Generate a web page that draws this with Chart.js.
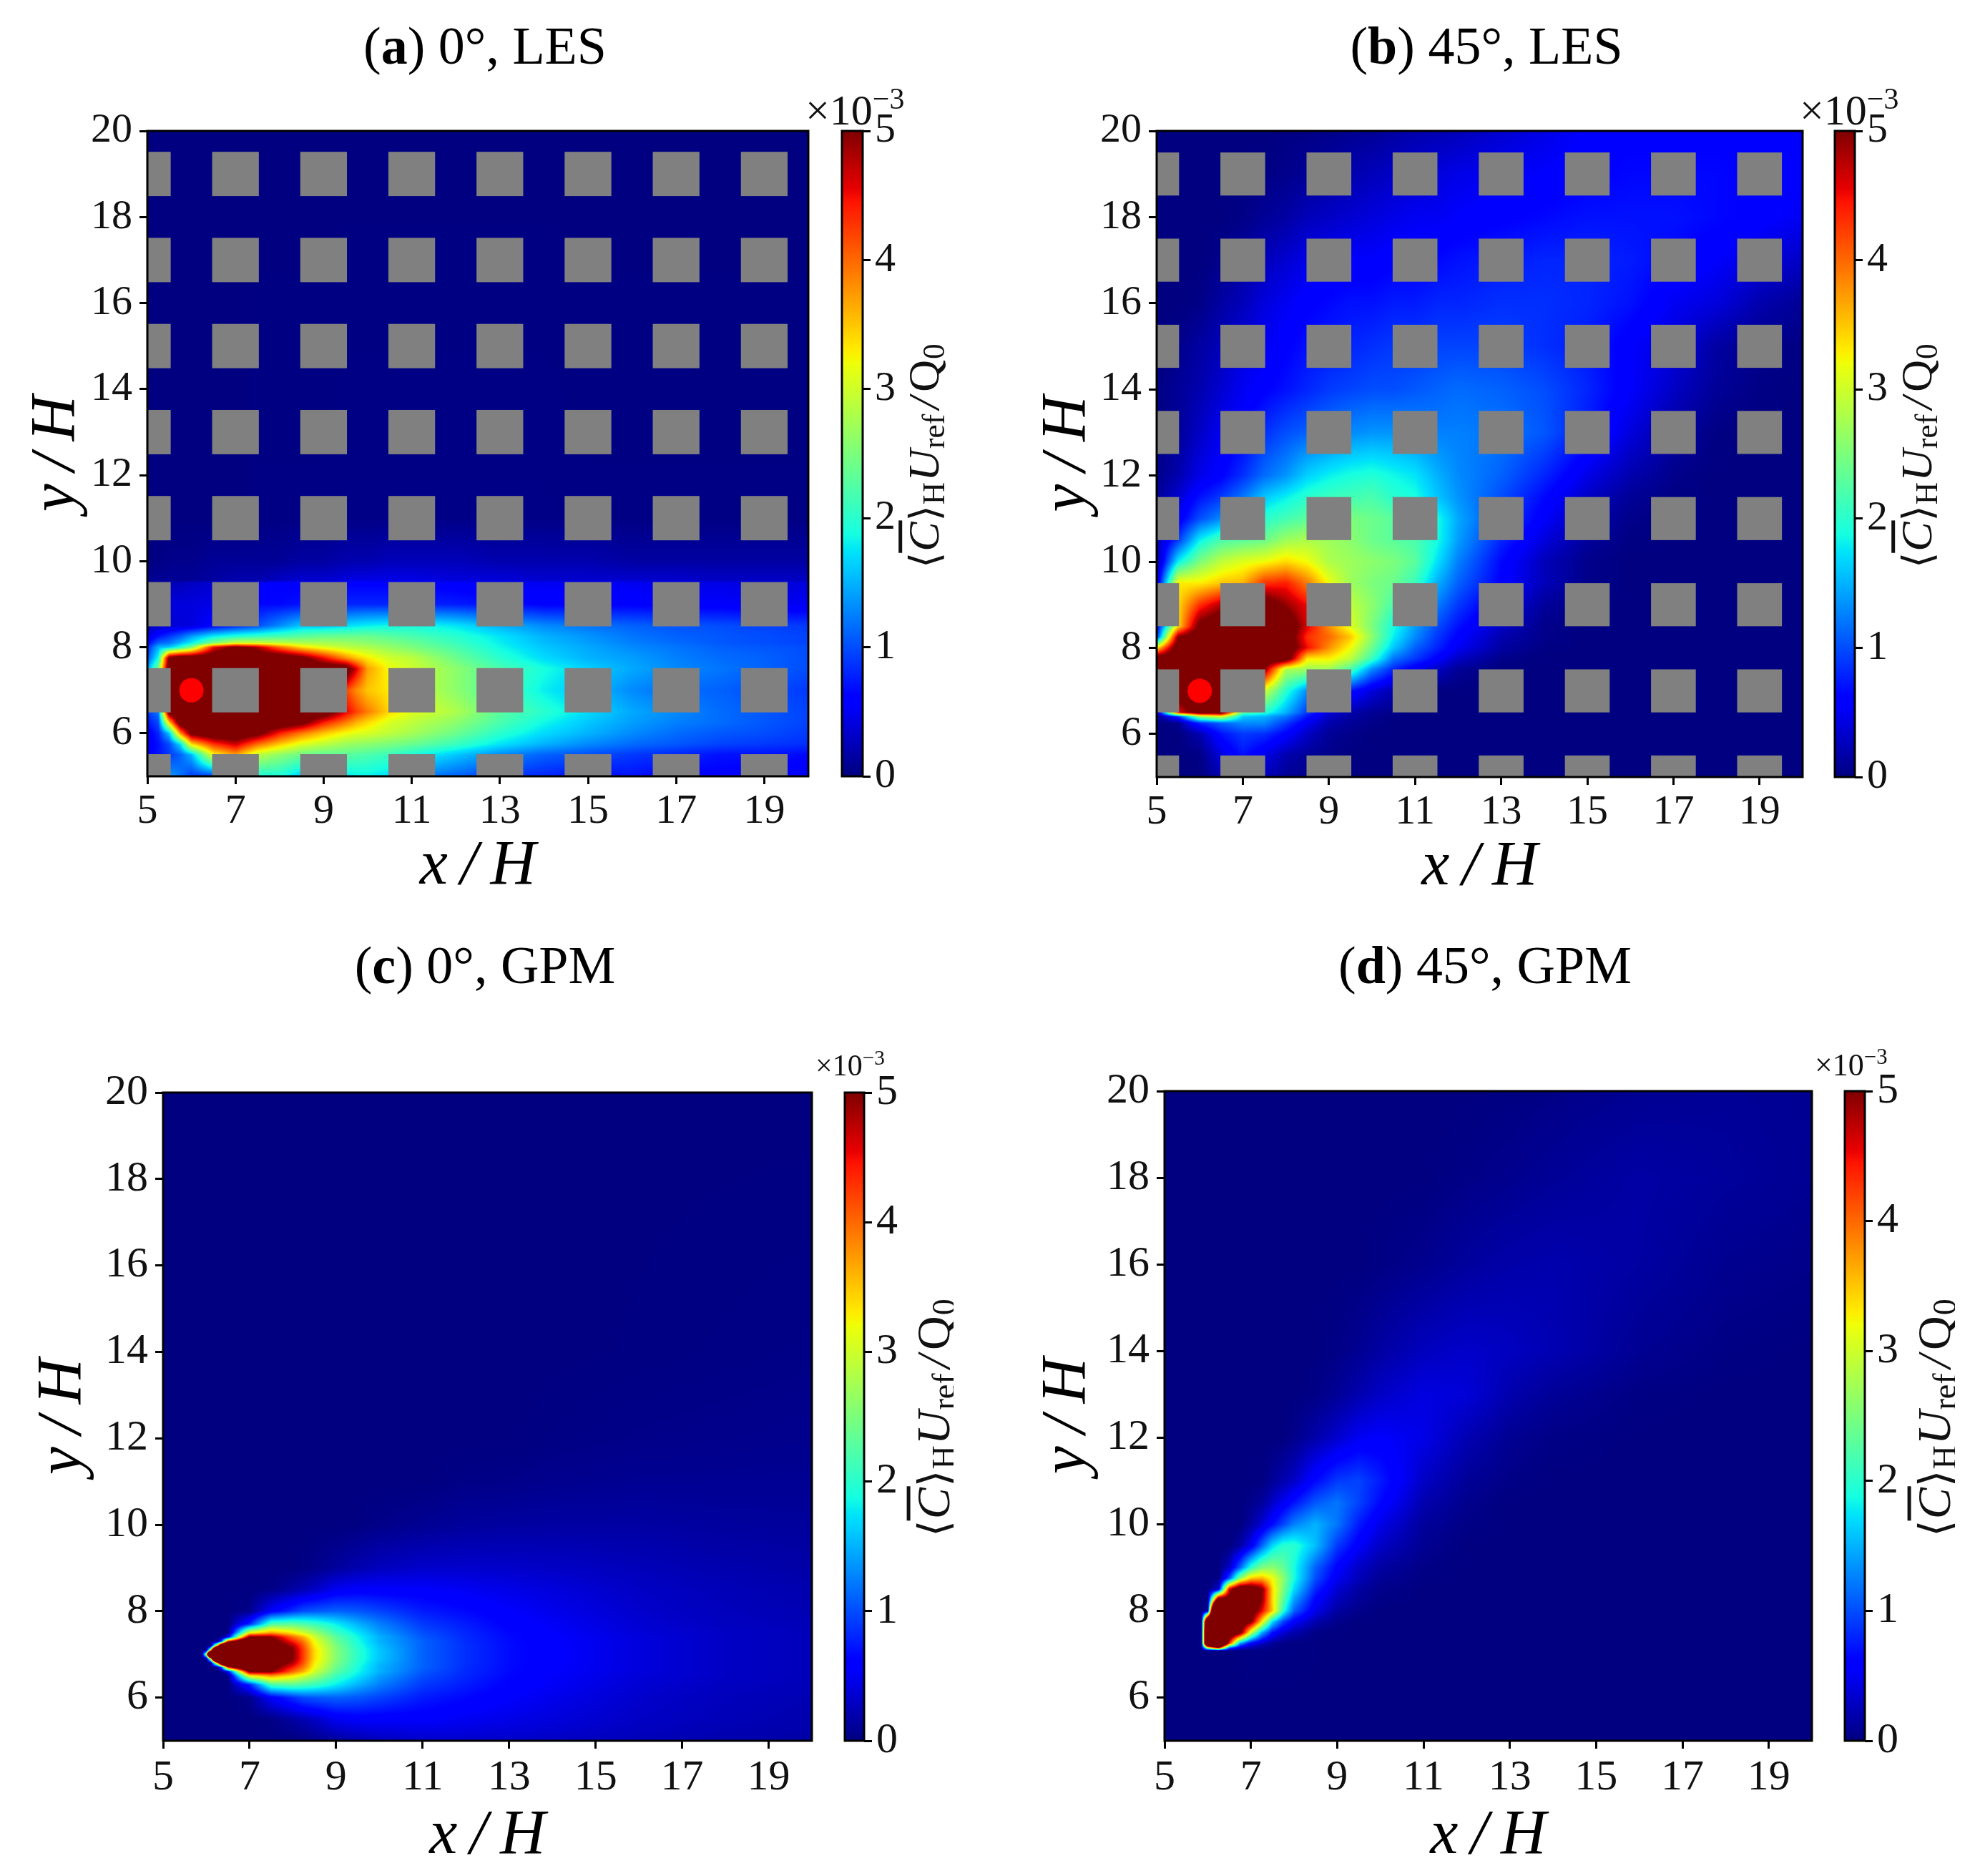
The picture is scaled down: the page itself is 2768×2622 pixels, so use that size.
<!DOCTYPE html>
<html>
<head>
<meta charset="utf-8">
<title>Concentration maps, LES and GPM</title>
<script src="https://cdn.jsdelivr.net/npm/chart.js@4"></script>
<style>
  html, body { margin: 0; background: #fff; }
  body { position: relative; width: 2768px; height: 2622px; overflow: hidden; }
  canvas { position: absolute; }
  .panel-title { position: absolute; font: 74px "Liberation Serif", serif; color: #000; transform: translateX(-50%); white-space: nowrap; }
</style>
</head>
<body>
<script>
/* ==========================================================================
   DATA (concentration in units of 10^-3)
   ========================================================================== */
const xTicks = [5, 7, 9, 11, 13, 15, 17, 19];
const yTicks = [6, 8, 10, 12, 14, 16, 18, 20];
const cbTicks = [0, 1, 2, 3, 4, 5];
const buildingX = [5, 7, 9, 11, 13, 15, 17, 19];
const buildingY = [5, 7, 9, 11, 13, 15, 17, 19];
const sourceX = [6];
const sourceY = [7];

// (a) 0 deg, LES
const les0X = [5, 5.25, 5.5, 5.75, 6, 6.5, 7, 7.5, 8, 8.5, 9, 9.5, 9.75, 10, 10.5, 11, 12, 13, 14, 15, 16, 17, 18, 19, 20];
const les0Y = [5, 5.5, 5.75, 6, 6.25, 6.5, 7, 7.5, 7.75, 8, 8.1, 8.25, 8.5, 9, 9.5, 9.55, 10, 11, 20];
const les0C = [
  [.6,.9,1.4,1.2,.9,.9,1.2,1.9,1.9,1.6,1.6,1.75,1.8,1.8,1.7,1.3,1.1,.9,.8,.7,.7,.6,.6,.55,.55],
  [.6,.7,.9,1.1,1.5,3.2,3.7,2.9,2.6,2.4,2.3,2.3,2.25,2.2,2.1,1.9,1.6,1.3,1.1,1,.9,.8,.7,.7,.65],
  [.5,.7,1,1.7,3.4,4.3,4.7,4,3.5,3.1,2.9,2.7,2.65,2.6,2.5,2.4,2.1,1.75,1.5,1.3,1.15,1.05,.95,.9,.85],
  [.5,.8,1.6,3.8,5.2,5.5,5.5,5.2,4.4,3.9,3.5,3.2,3.1,3.05,2.9,2.75,2.4,2,1.7,1.5,1.3,1.15,1.05,1,.9],
  [.7,1,3.5,5.5,5.5,5.5,5.5,5.5,5.5,5.2,4.4,3.9,3.6,3.4,3.05,2.9,2.6,2.2,1.85,1.6,1.4,1.25,1.15,1.05,.95],
  [.9,1.2,5.5,5.5,5.5,5.5,5.5,5.5,5.5,5.5,5.5,4.6,4.2,3.9,3.4,3.1,2.8,2.3,2,1.7,1.45,1.3,1.15,1.05,.95],
  [1.5,2.5,5.5,5.5,5.5,5.5,5.5,5.5,5.5,5.5,5.5,4.2,3.8,3.5,3.3,3,2.6,2.2,1.8,1.55,1.3,1.15,1.1,1,.9],
  [1.4,2.5,5.5,5.5,5.5,5.5,5.5,5.5,5.5,5.5,5.5,5.5,4.6,3.7,3.2,3,2.6,2.2,1.9,1.65,1.45,1.3,1.2,1.1,1],
  [1,1.9,5.2,5.5,5.5,5.5,5.5,5.5,5.5,5.2,4.5,3.8,3.5,3.3,3,2.9,2.4,2,1.7,1.5,1.4,1.25,1.15,1.1,1],
  [.8,1.5,1.6,2,2.5,4.5,5.2,4.8,4,3.4,3.1,2.9,2.85,2.8,2.65,2.5,2.2,1.85,1.6,1.45,1.3,1.2,1.1,1.05,1],
  [.6,1.1,1.2,1.5,1.8,2.5,3,3,2.9,2.8,2.75,2.7,2.65,2.6,2.5,2.4,2.1,1.8,1.55,1.4,1.25,1.15,1.05,1,.95],
  [.4,.7,.9,1.1,1.4,1.8,2,2.1,2.2,2.3,2.4,2.4,2.4,2.4,2.3,2.2,2,1.75,1.5,1.35,1.2,1.1,1.05,1,.95],
  [.2,.3,.35,.4,.4,.6,.8,1,1.3,1.6,1.6,1.7,1.75,1.8,1.85,1.9,1.75,1.5,1.3,1.2,1.1,1.05,1,.95,.9],
  [.3,.35,.4,.4,.4,.45,.6,.65,.65,.7,.8,.8,.8,.8,.8,.8,.75,.7,.6,.6,.6,.55,.55,.5,.5],
  [.1,.2,.25,.25,.3,.35,.4,.5,.6,.6,.6,.6,.6,.6,.6,.6,.55,.5,.5,.5,.5,.45,.45,.4,.4],
  [.1,.1,.1,.1,.1,.15,.2,.2,.3,.35,.35,.4,.45,.45,.45,.45,.4,.4,.35,.35,.35,.35,.3,.3,.3],
  [0,.02,.05,.05,.05,.1,.1,.1,.1,.15,.15,.2,.2,.2,.25,.25,.25,.2,.2,.2,.15,.15,.15,.15,.15],
  [0,0,0,0,0,0,0,.02,.02,.02,.02,.03,.03,.03,.03,.03,.03,.03,.03,.02,.02,.02,.02,.02,.02],
  [0,0,0,0,0,0,0,0,0,0,0,0,0,0,0,0,0,0,0,0,0,0,0,0,0]
];

// (b) 45 deg, LES
const les45X = [5, 5.5, 6, 6.5, 7, 7.5, 8, 8.5, 9, 9.5, 10, 10.5, 11, 11.5, 12, 13, 14, 15, 16, 17, 18, 19, 20];
const les45Y = [5, 5.5, 6, 6.25, 6.4, 6.5, 7, 7.5, 7.75, 8, 8.25, 8.5, 9, 9.5, 10, 10.5, 11, 11.5, 12, 13, 14, 15, 16, 17, 18, 19, 20];
const les45C = [
  [0,0,0,.2,.3,.25,.1,.05,0,0,0,0,0,0,0,0,0,0,0,0,0,0,0],
  [0,0,.02,.4,.7,.45,.2,.1,.05,0,0,0,0,0,0,0,0,0,0,0,0,0,0],
  [0,0,.2,.7,.9,.85,.6,.3,.1,.05,0,0,0,0,0,0,0,0,0,0,0,0,0],
  [0,.05,.8,1.1,1.3,1.3,.9,.5,.2,.1,.05,0,0,0,0,0,0,0,0,0,0,0,0],
  [0,.8,2.6,3,1.6,1.5,1.2,.7,.3,.15,.07,.02,0,0,0,0,0,0,0,0,0,0,0],
  [0,4.5,5.5,5.5,2.3,2,1.5,.9,.4,.2,.1,.05,0,0,0,0,0,0,0,0,0,0,0],
  [5.5,5.5,5.5,5.5,4,3,2,1.3,1,.7,.4,.2,.05,0,0,0,0,0,0,0,0,0,0],
  [5.5,5.5,5.5,5.5,5.5,5,2.8,2.7,2.7,2.2,1.3,.8,.5,.3,.1,0,0,0,0,0,0,0,0],
  [5.5,5.5,5.5,5.5,5.5,5.5,5.5,3.3,3.3,2.9,2.1,1.2,.9,.6,.3,.05,0,0,0,0,0,0,0],
  [3.3,5.5,5.5,5.5,5.5,5.5,5.5,4.5,3.8,3.2,2.4,1.6,1.1,.8,.5,.15,.02,0,0,0,0,0,0],
  [.8,5,5.5,5.5,5.5,5.5,5.5,4.3,4,3.5,2.6,1.8,1.3,.9,.6,.2,.05,0,0,0,0,0,0],
  [.5,3.4,5.2,5.5,5.5,5.5,5.5,4.6,3.8,3.1,2.5,1.9,1.4,1,.7,.3,.05,0,0,0,0,0,0],
  [.4,3.4,4.3,4.8,5,5.4,4.9,4.5,3.6,2.9,2.6,2.2,1.7,1.25,.9,.45,.12,.02,0,0,0,0,0],
  [.3,3.3,3.3,3.5,3.6,4.3,4.4,3.9,3.2,2.7,2.5,2.4,2.1,1.5,1.1,.6,.25,.05,0,0,0,0,0],
  [.1,1.8,2.5,2.9,3.1,3.2,3.4,3.2,2.8,2.7,2.6,2.5,2.3,1.75,1.25,.65,.25,.05,0,0,0,0,0],
  [.2,.9,1.8,2.2,2.3,2.4,2.7,2.8,2.7,2.6,2.4,2.3,2.2,1.9,1.4,.8,.4,.12,.02,0,0,0,0],
  [.15,.5,1,1.3,1.7,2,2.15,2.3,2.4,2.5,2.4,2.3,2.2,1.9,1.45,.95,.55,.2,.05,0,0,0,0],
  [.1,.35,.7,.9,1.2,1.6,1.8,2,2.1,2.15,2.2,2,1.9,1.6,1.35,1,.65,.3,.1,.02,0,0,0],
  [.05,.2,.45,.6,.85,1.15,1.35,1.65,1.8,1.9,1.95,1.85,1.75,1.5,1.3,1.1,.8,.45,.2,.05,0,0,0],
  [0,.1,.3,.5,.6,.85,1,1.1,1.2,1.3,1.35,1.35,1.3,1.25,1.25,1.2,1.05,.75,.4,.15,.02,0,0],
  [.02,.1,.2,.35,.5,.6,.7,.8,.9,.95,1,1,1.05,1.1,1.15,1.1,1,.8,.55,.3,.1,.03,0],
  [0,.05,.15,.25,.4,.5,.6,.7,.75,.8,.85,.9,.9,.95,.95,.95,.85,.75,.55,.4,.15,.05,.02],
  [0,0,.03,.15,.25,.4,.5,.6,.65,.7,.7,.75,.75,.8,.8,.85,.85,.8,.7,.5,.4,.2,.1],
  [0,0,0,.05,.15,.25,.35,.45,.5,.55,.55,.6,.6,.65,.7,.75,.8,.8,.75,.65,.55,.4,.3],
  [0,0,0,0,.03,.1,.15,.25,.3,.35,.4,.45,.5,.5,.55,.6,.65,.7,.7,.7,.65,.6,.5],
  [0,0,0,0,0,.02,.05,.1,.15,.2,.25,.3,.35,.4,.45,.5,.55,.6,.65,.65,.65,.6,.55],
  [0,0,0,0,0,0,.02,.03,.05,.08,.1,.15,.2,.22,.25,.35,.45,.55,.6,.6,.6,.6,.6]
];

// (c) 0 deg, GPM
const gpm0X = [5, 5.9, 6, 6.1, 6.25, 6.35, 6.5, 7, 7.5, 8, 8.25, 8.5, 9, 9.5, 10, 11, 12, 13, 14, 16, 18, 20];
const gpm0Y = [5, 5.5, 6, 6.3, 6.5, 6.6, 6.7, 6.8, 6.9, 7, 7.1, 7.2, 7.3, 7.4, 7.5, 7.7, 8, 8.5, 9, 10, 11, 12, 14, 20];
const gpm0C = [
  [0,0,0,0,0,0,0,0,0,0,.02,.05,.12,.2,.27,.32,.33,.32,.3,.25,.2,.17],
  [0,0,0,0,0,0,0,0,.03,.15,.22,.3,.5,.55,.55,.55,.5,.45,.4,.3,.24,.2],
  [0,0,0,0,0,0,0,.05,.55,.85,1,1.05,1.1,1.05,.95,.75,.65,.55,.47,.33,.26,.22],
  [0,0,0,0,0,0,0,.8,2.2,2.3,2.2,2.1,1.8,1.5,1.25,.9,.75,.6,.52,.36,.28,.24],
  [0,0,0,0,0,0,0,3.2,3.7,3.3,3,2.7,2.1,1.75,1.4,1,.8,.64,.54,.38,.3,.25],
  [0,0,0,0,0,0,.5,5.1,5,4,3.6,3,2.3,1.85,1.5,1.05,.82,.66,.56,.4,.3,.25],
  [0,0,0,0,0,1,4.4,7,5.3,4.4,3.9,3.2,2.4,1.9,1.5,1.1,.83,.66,.56,.4,.3,.25],
  [0,0,0,0,3.5,7,9,8,5.5,4.8,4.1,3.3,2.5,1.95,1.55,1.1,.85,.67,.57,.4,.3,.25],
  [0,0,0,3,12,14,14,8,6,5,4.2,3.4,2.55,2,1.6,1.1,.85,.67,.57,.4,.3,.25],
  [0,0,3,12,14,14,14,8,6,5,4.2,3.4,2.55,2,1.6,1.1,.85,.67,.57,.4,.3,.25],
  [0,0,0,3,12,14,14,8,6,5,4.2,3.4,2.55,2,1.6,1.1,.85,.67,.57,.4,.3,.25],
  [0,0,0,0,3.5,7,9,8,5.5,4.8,4.1,3.3,2.5,1.95,1.55,1.1,.85,.67,.57,.4,.3,.25],
  [0,0,0,0,0,1,4.4,7,5.3,4.4,3.9,3.2,2.4,1.9,1.5,1.1,.83,.66,.56,.4,.3,.25],
  [0,0,0,0,0,0,.5,5.1,5,4,3.6,3,2.3,1.85,1.5,1.05,.82,.66,.56,.4,.3,.25],
  [0,0,0,0,0,0,0,3.2,3.7,3.3,3,2.7,2.1,1.75,1.4,1,.8,.64,.54,.38,.3,.25],
  [0,0,0,0,0,0,0,.8,2.2,2.3,2.2,2.1,1.8,1.5,1.25,.9,.75,.6,.52,.36,.28,.24],
  [0,0,0,0,0,0,0,.05,.55,.85,1,1.05,1.1,1.05,.95,.75,.65,.55,.47,.33,.26,.22],
  [0,0,0,0,0,0,0,0,.03,.15,.22,.3,.5,.55,.55,.55,.5,.45,.4,.3,.24,.2],
  [0,0,0,0,0,0,0,0,0,0,.02,.05,.12,.2,.27,.32,.33,.32,.3,.25,.2,.17],
  [0,0,0,0,0,0,0,0,0,0,0,0,0,.01,.04,.08,.12,.14,.15,.15,.13,.12],
  [0,0,0,0,0,0,0,0,0,0,0,0,0,0,0,0,.03,.04,.06,.08,.08,.08],
  [0,0,0,0,0,0,0,0,0,0,0,0,0,0,0,0,0,0,.02,.04,.05,.06],
  [0,0,0,0,0,0,0,0,0,0,0,0,0,0,0,0,0,0,0,.01,.02,.03],
  [0,0,0,0,0,0,0,0,0,0,0,0,0,0,0,0,0,0,0,0,0,0]
];

// (d) 45 deg, GPM
const gpm45X = [5, 5.85, 6, 6.25, 6.5, 6.75, 7, 7.25, 7.5, 7.75, 8, 8.5, 9, 9.5, 10, 11, 12, 13, 14, 16, 18, 20];
const gpm45Y = [5, 6, 7.08, 7.15, 7.25, 7.5, 7.75, 8, 8.25, 8.5, 8.75, 9, 9.5, 10, 10.5, 11, 12, 13, 14, 16, 18, 20];
const gpm45C = [
  [0,0,0,0,0,0,0,0,0,0,0,0,0,0,0,0,0,0,0,0,0,0],
  [0,0,0,0,0,0,0,0,0,0,0,0,0,0,0,0,0,0,0,0,0,0],
  [0,0,0,0,0,.02,.03,.03,.02,.02,.02,.01,0,0,0,0,0,0,0,0,0,0],
  [0,0,3,5,1.2,.4,.2,.1,.05,.02,.01,.01,0,0,0,0,0,0,0,0,0,0],
  [0,0,9,9,4.4,1.4,.6,.3,.1,.03,.01,.01,0,0,0,0,0,0,0,0,0,0],
  [0,0,9,8,6,5.3,3,1.5,.7,.35,.2,.03,0,0,0,0,0,0,0,0,0,0],
  [0,0,8,7,5.5,5.5,5.1,3.4,1.7,.95,.55,.2,.05,0,0,0,0,0,0,0,0,0],
  [0,0,.1,14,5.5,5.5,5.5,4.6,3.5,2,1.1,.45,.15,.05,0,0,0,0,0,0,0,0],
  [0,0,0,6,5.4,5.5,5.5,5,3.4,2.3,1.4,.6,.25,.1,.03,0,0,0,0,0,0,0],
  [0,0,0,.3,4.6,5.8,5.6,5.1,3.4,2.5,1.7,.8,.35,.15,.05,0,0,0,0,0,0,0],
  [0,0,0,0,1,2.6,3.5,3.6,3.2,2.6,1.9,1,.5,.25,.1,.02,0,0,0,0,0,0],
  [0,0,0,0,.3,1.1,2,2.5,2.6,2.35,1.9,1.1,.6,.3,.15,.03,0,0,0,0,0,0],
  [0,0,0,0,0,.15,.5,1.1,1.7,2,2,1.55,.9,.55,.3,.08,0,0,0,0,0,0],
  [0,0,0,0,0,0,.15,.35,.65,.95,1.25,1.5,1.2,.75,.45,.12,.03,0,0,0,0,0],
  [0,0,0,0,0,0,.05,.12,.3,.5,.7,1.05,1.2,.95,.65,.2,.06,0,0,0,0,0],
  [0,0,0,0,0,0,0,0,.1,.2,.3,.65,.9,.95,.75,.3,.1,.03,0,0,0,0],
  [0,0,0,0,0,0,0,0,0,0,.05,.18,.33,.5,.55,.45,.22,.08,.03,0,0,0],
  [0,0,0,0,0,0,0,0,0,0,0,.03,.1,.2,.3,.42,.38,.2,.1,.02,0,0],
  [0,0,0,0,0,0,0,0,0,0,0,0,.03,.08,.15,.27,.32,.28,.22,.08,.02,0],
  [0,0,0,0,0,0,0,0,0,0,0,0,0,0,.02,.06,.13,.18,.2,.15,.07,.04],
  [0,0,0,0,0,0,0,0,0,0,0,0,0,0,0,0,.03,.06,.1,.16,.12,.08],
  [0,0,0,0,0,0,0,0,0,0,0,0,0,0,0,0,0,.01,.03,.08,.1,.08]
];

/* ==========================================================================
   LAYOUT
   ========================================================================== */
const panels = [
  { letter: 'a', rest: ' 0°, LES', titleX: 678, titleY: 22, X: les0X, Y: les0Y, C: les0C, les: true,
    l: 206, r: 1130, t: 183, b: 1085, cl: 1177, cr: 1206, halfW: .53, halfH: .515, tickFont: 58, tickPad: 4,
    yTitlePad: 30, xTitlePad: 49, expL: 1126, expBase: 174, expFont: 60, labelBase: 1312, labelStart: 794, labelFont: 62 },
  { letter: 'b', rest: ' 45°, LES', titleX: 2078, titleY: 22, X: les45X, Y: les45Y, C: les45C, les: true,
    l: 1617, r: 2520, t: 183, b: 1086, cl: 2565, cr: 2593, halfW: .52, halfH: .5, tickFont: 58, tickPad: 4,
    yTitlePad: 32, xTitlePad: 49, expL: 2516, expBase: 174, expFont: 60, labelBase: 2700, labelStart: 794, labelFont: 62 },
  { letter: 'c', rest: ' 0°, GPM', titleX: 678, titleY: 1307, X: gpm0X, Y: gpm0Y, C: gpm0C, les: false,
    l: 228, r: 1135, t: 1527, b: 2433, cl: 1181, cr: 1208, tickFont: 60, tickPad: 5,
    yTitlePad: 17, xTitlePad: 42, expL: 1140, expBase: 1503, expFont: 42, labelBase: 1327, labelStart: 2148, labelFont: 66, clipR: 1333 },
  { letter: 'd', rest: ' 45°, GPM', titleX: 2076, titleY: 1307, X: gpm45X, Y: gpm45Y, C: gpm45C, les: false,
    l: 1628, r: 2533, t: 1525, b: 2433, cl: 2579, cr: 2607, tickFont: 60, tickPad: 5,
    yTitlePad: 21, xTitlePad: 42, expL: 2537, expBase: 1503, expFont: 44, labelBase: 2726, labelStart: 2148, labelFont: 66, clipR: 2733 }
];

const SERIF = '"Liberation Serif", serif';
const MATH = '"DejaVu Sans", sans-serif';

/* ==========================================================================
   JET COLOUR MAP
   ========================================================================== */
const jetR = [[0, 0], [.35, 0], [.66, 1], [.89, 1], [1, .5]];
const jetG = [[0, 0], [.125, 0], [.375, 1], [.64, 1], [.91, 0], [1, 0]];
const jetB = [[0, .5], [.11, 1], [.34, 1], [.65, 0], [1, 0]];

function channel(table, t) {
  for (let i = 1; i < table.length; i++) {
    if (t <= table[i][0]) {
      const f = (t - table[i - 1][0]) / (table[i][0] - table[i - 1][0]);
      return table[i - 1][1] + f * (table[i][1] - table[i - 1][1]);
    }
  }
  return table[table.length - 1][1];
}
const LUT = [];
for (let i = 0; i <= 1023; i++) {
  const t = i / 1023;
  LUT.push([channel(jetR, t) * 255, channel(jetG, t) * 255, channel(jetB, t) * 255]);
}
const jetOf = v => LUT[Math.round(Math.max(0, Math.min(1, v / 5)) * 1023)];

// position of a value inside a node list: cell index + fraction
function locate(nodes, v) {
  let i = 0;
  while (i < nodes.length - 2 && v > nodes[i + 1]) i++;
  const f = (v - nodes[i]) / (nodes[i + 1] - nodes[i]);
  return [i, Math.max(0, Math.min(1, f))];
}

/* ==========================================================================
   PLUGINS
   ========================================================================== */
// concentration field + buildings, painted through the chart's own scales
function fieldPlugin(p) {
  return {
    id: 'field',
    beforeDatasetsDraw(chart) {
      const { ctx, chartArea: a, scales: { x, y } } = chart;
      const w = Math.round(a.right - a.left), h = Math.round(a.bottom - a.top);
      const off = document.createElement('canvas');
      off.width = w; off.height = h;
      const octx = off.getContext('2d');
      const img = octx.createImageData(w, h);
      const cols = [], rows = [];
      for (let i = 0; i < w; i++) cols.push(locate(p.X, x.getValueForPixel(a.left + i + .5)));
      for (let j = 0; j < h; j++) rows.push(locate(p.Y, y.getValueForPixel(a.top + j + .5)));
      let k = 0;
      for (let j = 0; j < h; j++) {
        const [r, fy] = rows[j];
        const lo = p.C[r], hi = p.C[r + 1];
        for (let i = 0; i < w; i++) {
          const [c, fx] = cols[i];
          const v0 = lo[c] + fx * (lo[c + 1] - lo[c]);
          const v1 = hi[c] + fx * (hi[c + 1] - hi[c]);
          const col = jetOf(v0 + fy * (v1 - v0));
          img.data[k++] = col[0]; img.data[k++] = col[1]; img.data[k++] = col[2]; img.data[k++] = 255;
        }
      }
      octx.putImageData(img, 0, 0);
      ctx.drawImage(off, a.left, a.top);

      if (p.les) {
        ctx.save();
        ctx.beginPath();
        ctx.rect(a.left, a.top, w, h);
        ctx.clip();
        ctx.fillStyle = '#808080';
        buildingX.forEach(bx => buildingY.forEach(by => {
          const x0 = x.getPixelForValue(bx - p.halfW), x1 = x.getPixelForValue(bx + p.halfW);
          const y0 = y.getPixelForValue(by + p.halfH), y1 = y.getPixelForValue(by - p.halfH);
          ctx.fillRect(x0, y0, x1 - x0, y1 - y0);
        }));
        ctx.restore();
      }
    }
  };
}

const framePlugin = {
  id: 'frame',
  afterDraw(chart) {
    const { ctx, chartArea: a } = chart;
    ctx.save();
    ctx.strokeStyle = '#000';
    ctx.lineWidth = 3;
    ctx.strokeRect(a.left, a.top, a.right - a.left, a.bottom - a.top);
    ctx.restore();
  }
};

// colour strip, exponent and the rotated quantity label
function colorbarPlugin(p, canvasLeft, canvasTop) {
  return {
    id: 'colorbar',
    beforeDatasetsDraw(chart) {
      const { ctx, chartArea: a, scales: { y } } = chart;
      for (let py = Math.floor(a.top); py < a.bottom; py++) {
        const col = jetOf(y.getValueForPixel(py + .5));
        ctx.fillStyle = `rgb(${col[0]},${col[1]},${col[2]})`;
        ctx.fillRect(a.left, py, a.right - a.left, 1);
      }
    },
    afterDraw(chart) {
      const { ctx } = chart;
      ctx.save();
      ctx.fillStyle = '#111';
      ctx.textBaseline = 'alphabetic';
      ctx.textAlign = 'left';

      // x 10^-3
      let ex = p.expL - canvasLeft;
      const eb = p.expBase - canvasTop;
      ctx.font = `${p.expFont}px ${SERIF}`;
      ctx.fillText('×10', ex, eb);
      ex += ctx.measureText('×10').width;
      ctx.font = `${p.expFont * .7}px ${SERIF}`;
      ctx.fillText('−3', ex, eb - p.expFont * .36);

      // <C>_H U_ref / Q_0, read from bottom to top
      ctx.translate(p.labelBase - canvasLeft, p.labelStart - canvasTop);
      ctx.rotate(-Math.PI / 2);
      const main = p.labelFont, sub = p.labelFont * .7;
      const pieces = [
        ['⟨', `${main * .92}px ${MATH}`, 0, 0],
        ['C', `italic ${main}px ${SERIF}`, 0, 0, true],
        ['⟩', `${main * .92}px ${MATH}`, 0, 0],
        ['H', `${sub}px ${SERIF}`, 8, 0],
        ['U', `italic ${main}px ${SERIF}`, 0, 0],
        ['ref', `${sub}px ${SERIF}`, 8, 6],
        ['/', `italic ${main}px ${SERIF}`, 0, 6],
        ['Q', `${main}px ${SERIF}`, 0, 0],
        ['0', `${sub}px ${SERIF}`, 8, 0]
      ];
      let cursor = 0;
      pieces.forEach(([text, font, drop, gap, bar]) => {
        ctx.font = font;
        const tw = ctx.measureText(text).width;
        ctx.fillText(text, cursor, drop);
        if (bar) ctx.fillRect(cursor - 2, -main * .9, tw + 4, 5);
        cursor += tw + 1 + gap;
      });
      ctx.restore();
    }
  };
}

/* ==========================================================================
   CHARTS
   ========================================================================== */
function addCanvas(left, top, width, height) {
  const c = document.createElement('canvas');
  c.width = width; c.height = height;
  c.style.left = left + 'px';
  c.style.top = top + 'px';
  document.body.appendChild(c);
  return c;
}

function tickScale(values, font, padding, titleText, titleFont, titlePadding, size, sizeProp, min, max) {
  return {
    type: 'linear', min, max,
    afterBuildTicks: s => { s.ticks = values.map(v => ({ value: v })); },
    afterFit: s => { s[sizeProp] = size; },
    border: { display: false },
    grid: { drawOnChartArea: false, color: '#000', lineWidth: 3, tickLength: 11 },
    ticks: { autoSkip: false, maxRotation: 0, padding, color: '#111', font: { family: SERIF, size: font }, callback: v => String(v) },
    title: titleText ? { display: true, text: titleText, color: '#000', padding: titlePadding, font: { family: SERIF, size: titleFont, style: 'italic', lineHeight: 1 } } : { display: false }
  };
}

panels.forEach(p => {
  const title = document.createElement('div');
  title.className = 'panel-title';
  title.style.left = p.titleX + 'px';
  title.style.top = p.titleY + 'px';
  title.innerHTML = `(<b>${p.letter}</b>)${p.rest}`;
  document.body.appendChild(title);

  // main map
  const leftGap = 200, bottomGap = 220, topGap = 70;
  new Chart(addCanvas(p.l - leftGap, p.t - topGap, p.r - p.l + leftGap + 20, p.b - p.t + topGap + bottomGap), {
    type: 'scatter',
    data: {
      datasets: p.les ? [{
        label: 'source',
        data: sourceX.map((v, i) => ({ x: v, y: sourceY[i] })),
        pointRadius: 17, pointBackgroundColor: '#ff0000', pointBorderWidth: 0
      }] : []
    },
    options: {
      responsive: false, animation: false, devicePixelRatio: 1,
      layout: { autoPadding: false, padding: { top: topGap, right: 20, left: 0, bottom: 0 } },
      plugins: { legend: { display: false }, tooltip: { enabled: false } },
      scales: {
        x: tickScale(xTicks, p.tickFont, p.tickPad, 'x\u2009/\u2009H', 88, { bottom: p.xTitlePad }, bottomGap, 'height', 5, 20),
        y: tickScale(yTicks, p.tickFont, 10, 'y\u2009/\u2009H', 88, { top: p.yTitlePad }, leftGap, 'width', 5, 20)
      }
    },
    plugins: [fieldPlugin(p), framePlugin]
  });

  // colour bar
  const stripW = p.cr - p.cl, cLeft = p.cl - 60, cTop = p.t - 70;
  const cRight = p.clipR || p.cr + 160;
  const cWidth = cRight - cLeft;
  const yBar = tickScale(cbTicks, p.tickFont, 6, null, 0, 0, cWidth - 60 - stripW, 'width', 0, 5);
  yBar.position = 'right';
  new Chart(addCanvas(cLeft, cTop, cWidth, p.b - p.t + 70 + 50), {
    type: 'scatter',
    data: { datasets: [] },
    options: {
      responsive: false, animation: false, devicePixelRatio: 1,
      layout: { autoPadding: false, padding: { top: 70, left: 60, right: 0, bottom: 50 } },
      plugins: { legend: { display: false }, tooltip: { enabled: false } },
      scales: { x: { display: false }, y: yBar }
    },
    plugins: [colorbarPlugin(p, cLeft, cTop), framePlugin]
  });
});
</script>
</body>
</html>
